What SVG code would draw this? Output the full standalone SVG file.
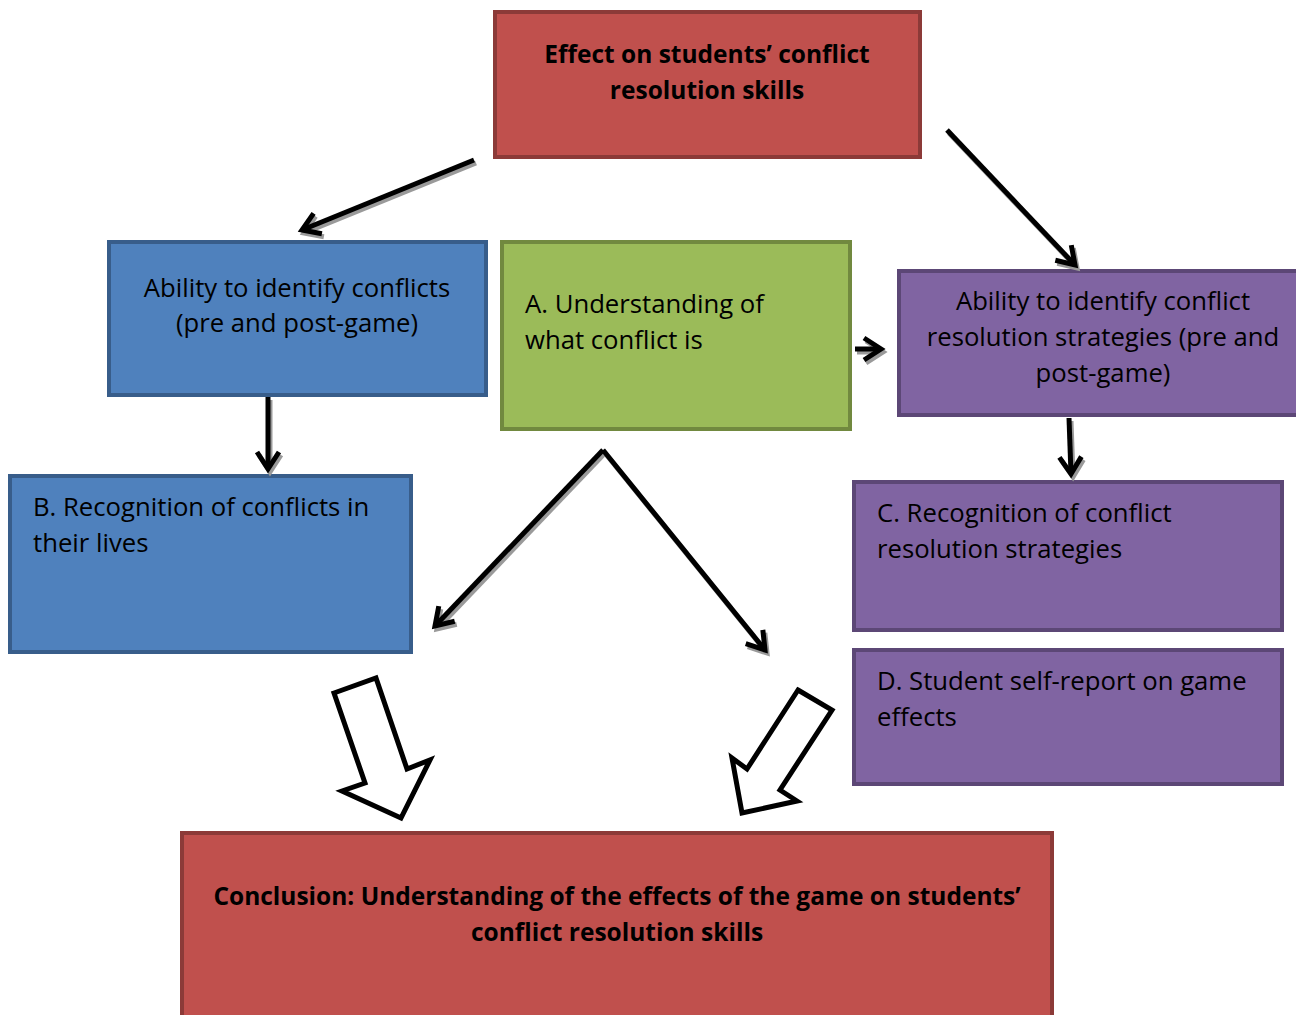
<svg xmlns="http://www.w3.org/2000/svg" width="1296" height="1015" viewBox="0 0 1296 1015">
<style>
.red{fill:#C0504D;stroke:#8C3A38;stroke-width:4}
.blue{fill:#4F81BD;stroke:#385D8A;stroke-width:4}
.green{fill:#9BBB59;stroke:#71893F;stroke-width:4}
.purple{fill:#8064A2;stroke:#5C4776;stroke-width:4}
text{font-family:"Open Sans","Liberation Sans",sans-serif;font-size:25.7px;fill:#000}
.b{font-weight:bold;font-size:24.5px}
.c{text-anchor:middle}
.ln{fill:none;stroke:#000;stroke-width:5;marker-end:url(#ah)}
.sh{fill:none;stroke:#9a9a9a;stroke-width:5;marker-end:url(#ahs)}
.hollow{fill:#fff;stroke:#000;stroke-width:5;stroke-linejoin:miter}
</style>
<defs>
<marker id="ah" markerUnits="userSpaceOnUse" viewBox="-24 -16 30 32" markerWidth="30" markerHeight="32" refX="0" refY="0" orient="auto">
<path d="M-17,-11 L0,0 L-17,11" fill="none" stroke="#000" stroke-width="5"/>
</marker>
<marker id="ahs" markerUnits="userSpaceOnUse" viewBox="-24 -16 30 32" markerWidth="30" markerHeight="32" refX="0" refY="0" orient="auto">
<path d="M-17,-11 L0,0 L-17,11" fill="none" stroke="#9a9a9a" stroke-width="5"/>
</marker>
</defs>
<rect width="1296" height="1015" fill="#fff"/>
<g id="top">
<rect class="red" x="495" y="12" width="425" height="145"/>
<text class="b c" x="707" y="63">Effect on students’ conflict</text>
<text class="b c" x="707" y="99">resolution skills</text>
</g>
<g id="identify-conflicts">
<rect class="blue" x="109" y="242" width="377" height="153"/>
<text class="c" x="297" y="297">Ability to identify conflicts</text>
<text class="c" x="297" y="332">(pre and post-game)</text>
</g>
<g id="understanding">
<rect class="green" x="502" y="242" width="348" height="187"/>
<text x="525" y="313">A. Understanding of</text>
<text x="525" y="349">what conflict is</text>
</g>
<g id="identify-strategies">
<rect class="purple" x="899" y="271" width="402" height="144"/>
<text class="c" x="1103" y="310">Ability to identify conflict</text>
<text class="c" x="1103" y="346">resolution strategies (pre and</text>
<text class="c" x="1103" y="382">post-game)</text>
</g>
<g id="recognition-conflicts">
<rect class="blue" x="10" y="476" width="401" height="176"/>
<text x="33" y="516">B. Recognition of conflicts in</text>
<text x="33" y="552">their lives</text>
</g>
<g id="recognition-strategies">
<rect class="purple" x="854" y="482" width="428" height="148"/>
<text x="877" y="522">C. Recognition of conflict</text>
<text x="877" y="558">resolution strategies</text>
</g>
<g id="self-report">
<rect class="purple" x="854" y="650" width="428" height="134"/>
<text x="877" y="690">D. Student self-report on game</text>
<text x="877" y="726">effects</text>
</g>
<g id="conclusion">
<rect class="red" x="182" y="833" width="870" height="190"/>
<text class="b c" x="617" y="905">Conclusion: Understanding of the effects of the game on students’</text>
<text class="b c" x="617" y="941">conflict resolution skills</text>
</g>
<g id="connectors">
<g transform="translate(2,3)">
<path class="sh" d="M474,160 L302,230"/>
<path class="sh" d="M947,130 L1075,265"/>
<path class="sh" d="M268,397 L268,469"/>
<path class="sh" d="M855,349 L881,349"/>
<path class="sh" d="M1069,418 L1071,474"/>
<path class="sh" d="M603,450 L435,626"/>
<path class="sh" d="M603,450 L765,650"/>
</g>
<path class="ln" d="M474,160 L302,230"/>
<path class="ln" d="M947,130 L1075,265"/>
<path class="ln" d="M268,397 L268,469"/>
<path class="ln" d="M855,349 L881,349"/>
<path class="ln" d="M1069,418 L1071,474"/>
<path class="ln" d="M603,450 L435,626"/>
<path class="ln" d="M603,450 L765,650"/>
<polygon class="hollow" points="334,693 376,678 407,769 430,760 401,818 342,791 365,783"/>
<polygon class="hollow" points="798,690 832,710 780,790 797,801 742,813 732,758 747,769"/>
</g>
</svg>
